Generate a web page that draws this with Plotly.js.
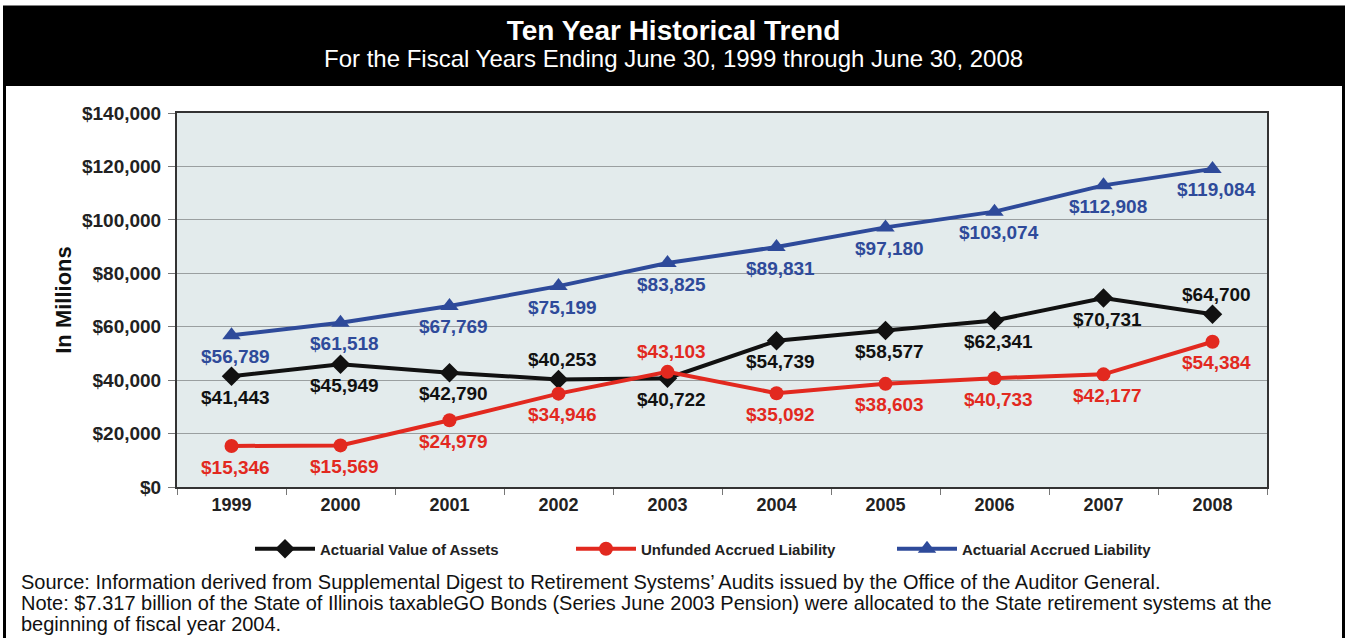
<!DOCTYPE html>
<html>
<head>
<meta charset="utf-8">
<script src="https://cdn.plot.ly/plotly-3.0.1.min.js"></script>
<style>
  html, body { margin: 0; padding: 0; background: #ffffff; }
  #chart { width: 1347px; height: 638px; }
</style>
</head>
<body>
<div id="chart"></div>
<script>
// ---- Data ----
const years = ['1999', '2000', '2001', '2002', '2003', '2004', '2005', '2006', '2007', '2008'];
const actuarialValueOfAssets = [41443, 45949, 42790, 40253, 40722, 54739, 58577, 62341, 70731, 64700];
const unfundedAccruedLiability = [15346, 15569, 24979, 34946, 43103, 35092, 38603, 40733, 42177, 54384];
const actuarialAccruedLiability = [56789, 61518, 67769, 75199, 83825, 89831, 97180, 103074, 112908, 119084];
const yTickValues = [0, 20000, 40000, 60000, 80000, 100000, 120000, 140000];
const seriesNames = ['Actuarial Value of Assets', 'Unfunded Accrued Liability', 'Actuarial Accrued Liability'];
const titleText = 'Ten Year Historical Trend';
const subtitleText = 'For the Fiscal Years Ending June 30, 1999 through June 30, 2008';
const yAxisTitle = 'In Millions';
const footerLines = [
  'Source: Information derived from Supplemental Digest to Retirement Systems\u2019 Audits issued by the Office of the Auditor General.',
  'Note: $7.317 billion of the State of Illinois taxableGO Bonds (Series June 2003 Pension) were allocated to the State retirement systems at the',
  'beginning of fiscal year 2004.'
];

// ---- Label placement (above = true, below = false) ----
const assetsLabelAbove = [false, false, false, true, false, false, false, false, false, true];
const unfundedLabelAbove = [false, false, false, false, true, false, false, false, false, false];
const liabilityLabelAbove = [false, false, false, false, false, false, false, false, false, false];

// ---- Styling ----
const FONT = 'Liberation Sans, Arial, Helvetica, sans-serif';
const colAssets = '#111111';
const colUnfunded = '#e2291f';
const colLiability = '#2e4a9a';

const W = 1347, H = 638;
const M = { l: 177, r: 80, t: 113, b: 151 };
const plotW = W - M.l - M.r, plotH = H - M.t - M.b;
const px = x => (x - M.l) / plotW;          // pixel x -> paper x
const py = y => (H - M.b - y) / plotH;      // pixel y -> paper y

const fmt = v => '$' + v.toLocaleString('en-US');

function labelAnnotations(values, above, color) {
  return values.map((v, i) => ({
    x: i, y: v, xref: 'x', yref: 'y',
    text: fmt(v), showarrow: false,
    xshift: 4, yshift: above[i] ? 20 : -21,
    font: { family: FONT, size: 19, color: color, weight: 'bold' }
  }));
}

const traces = [
  {
    x: years, y: actuarialValueOfAssets, name: seriesNames[0],
    type: 'scatter', mode: 'lines+markers',
    line: { color: colAssets, width: 4 },
    marker: { symbol: 'diamond', size: 15, color: colAssets }
  },
  {
    x: years, y: unfundedAccruedLiability, name: seriesNames[1],
    type: 'scatter', mode: 'lines+markers',
    line: { color: colUnfunded, width: 4 },
    marker: { symbol: 'circle', size: 14, color: colUnfunded }
  },
  {
    x: years, y: actuarialAccruedLiability, name: seriesNames[2],
    type: 'scatter', mode: 'lines+markers',
    line: { color: colLiability, width: 4 },
    marker: { symbol: 'triangle-up', size: 16, color: colLiability }
  }
];

const annotations = []
  .concat(labelAnnotations(actuarialAccruedLiability, liabilityLabelAbove, colLiability))
  .concat(labelAnnotations(actuarialValueOfAssets, assetsLabelAbove, colAssets))
  .concat(labelAnnotations(unfundedAccruedLiability, unfundedLabelAbove, colUnfunded));

annotations.push({
  xref: 'paper', yref: 'paper', x: px(673), y: py(58),
  xanchor: 'center', yanchor: 'middle', showarrow: false,
  text: subtitleText,
  font: { family: FONT, size: 24, color: '#ffffff' }
});

const footerY = [582, 603, 624];
footerLines.forEach((t, i) => {
  annotations.push({
    xref: 'paper', yref: 'paper', x: px(19), y: py(footerY[i]),
    xanchor: 'left', yanchor: 'middle', showarrow: false,
    text: t, font: { family: FONT, size: 20, color: '#111111' }
  });
});

const shapes = [
  // outer frame
  { type: 'rect', xref: 'paper', yref: 'paper', layer: 'below',
    x0: px(4.5), x1: px(1343.5), y0: py(640), y1: py(7),
    line: { color: '#000000', width: 3 }, fillcolor: 'rgba(0,0,0,0)' },
  // header band
  { type: 'rect', xref: 'paper', yref: 'paper', layer: 'below',
    x0: px(3), x1: px(1345), y0: py(86), y1: py(7),
    line: { width: 0 }, fillcolor: '#000000' }
];

const layout = {
  width: W, height: H,
  margin: M,
  paper_bgcolor: '#ffffff',
  plot_bgcolor: '#e3ebec',
  font: { family: FONT, color: '#222222' },
  title: {
    text: titleText,
    x: 0.5, xref: 'container', xanchor: 'center',
    y: 1 - 30 / H, yref: 'container', yanchor: 'middle',
    font: { family: FONT, size: 28, color: '#ffffff', weight: 'bold' }
  },
  xaxis: {
    type: 'category',
    categoryorder: 'array', categoryarray: years,
    range: [-0.5, years.length - 0.5],
    tickson: 'boundaries',
    ticks: 'outside', ticklen: 6, tickcolor: '#777777', tickwidth: 1,
    showline: true, linecolor: '#333333', linewidth: 2, mirror: true,
    showgrid: false,
    tickfont: { family: FONT, size: 18, color: '#222222', weight: 'bold' },
    fixedrange: true
  },
  yaxis: {
    range: [0, 140000],
    tickvals: yTickValues,
    ticktext: yTickValues.map(fmt),
    ticks: 'outside', ticklen: 7, tickcolor: '#777777', tickwidth: 1,
    ticklabelstandoff: 3,
    showline: true, linecolor: '#333333', linewidth: 2, mirror: true,
    showgrid: true, gridcolor: '#9a9fa0', gridwidth: 1,
    zeroline: false,
    tickfont: { family: FONT, size: 19, color: '#222222', weight: 'bold' },
    title: {
      text: yAxisTitle, standoff: 4,
      font: { family: FONT, size: 22, color: '#111111', weight: 'bold' }
    },
    fixedrange: true
  },
  showlegend: true,
  legend: {
    orientation: 'h',
    x: px(250), xanchor: 'left',
    y: py(549), yanchor: 'middle',
    itemwidth: 60,
    entrywidth: 246, entrywidthmode: 'pixels',
    bgcolor: 'rgba(0,0,0,0)',
    font: { family: FONT, size: 15, color: '#222222', weight: 'bold' },
    traceorder: 'normal'
  },
  annotations: annotations,
  shapes: shapes
};

Plotly.newPlot('chart', traces, layout, { displayModeBar: false, staticPlot: true });
</script>
</body>
</html>
